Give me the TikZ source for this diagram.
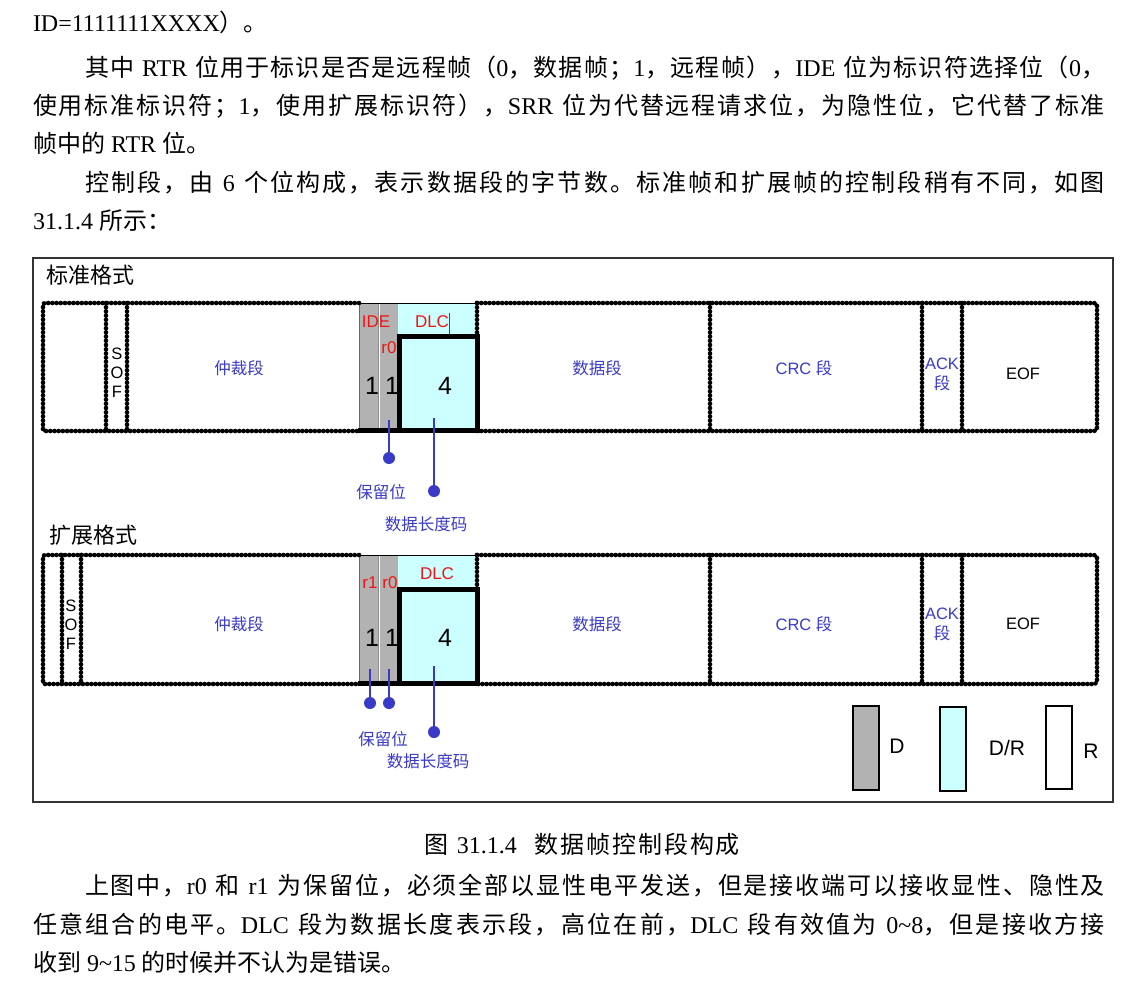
\documentclass[tikz,border=0pt]{standalone}
\usepackage{fontspec}
\setmainfont{Liberation Serif}
\newfontfamily\cjkfont{Noto Sans CJK SC}
\newfontfamily\sansf{Liberation Sans}
\newcommand\cj[1]{{\cjkfont #1}}
\XeTeXinterchartokenstate=1
\newcount\myc
\myc="3000
\loop \XeTeXcharclass\myc=1 \ifnum\myc<"303F \advance\myc by 1 \repeat
\myc="4E00
\loop \XeTeXcharclass\myc=1 \ifnum\myc<"9FFF \advance\myc by 1 \repeat
\myc="FF00
\loop \XeTeXcharclass\myc=1 \ifnum\myc<"FFEF \advance\myc by 1 \repeat
\XeTeXinterchartoks 1 1 = {\hskip 0pt plus 2pt\relax}
\definecolor{greyc}{RGB}{178,178,178}
\definecolor{cyanc}{RGB}{204,255,255}
\definecolor{bluec}{RGB}{58,58,200}
\definecolor{redc}{RGB}{240,20,20}
\begin{document}
\begin{tikzpicture}[x=1pt,y=-1pt,
  every node/.style={inner sep=0pt, outer sep=0pt},
  para/.style={anchor=base west, font=\fontsize{24}{28}\selectfont},
  dotln/.style={line width=2.2pt, line cap=round,
     preaction={draw, line width=4.6pt, dash pattern=on 0pt off 4.2pt, line cap=round}},
  thickln/.style={line width=5pt},
  bluet/.style={text=bluec, font=\sansf\fontsize{16.5}{21}\selectfont, align=center},
  redt/.style={text=redc, font=\sansf\fontsize{17}{20}\selectfont},
  bigt/.style={text=black, font=\sansf\fontsize{25}{28}\selectfont},
  blackt/.style={text=black, font=\sansf\fontsize{16.5}{19}\selectfont, align=center},
  titlet/.style={anchor=west, font=\cjkfont\fontsize{22}{26}\selectfont},
  legt/.style={text=black, font=\sansf\fontsize{21}{24}\selectfont},
  blueln/.style={draw=bluec, line width=2.4pt},
  bdot/.style={circle, fill=bluec, minimum size=12pt},
  legbox/.style={draw=black, line width=1.8pt}
]
\useasboundingbox[fill=white] (0,0) rectangle (1139,985);

% ---------- paragraph text above ----------
\node[para] (l1) at (33,31.5) {ID=1111111XXXX\cj{）。}};
\node[para] (l2) at (85,76.5) {\makebox[1020pt][s]{\cj{其中} RTR \cj{位用于标识是否是远程帧（}0\cj{，数据帧；}1\cj{，远程帧），}IDE \cj{位为标识符选择位（}0\cj{，}}};
\node[para] (l3) at (33,114.5) {\makebox[1072pt][s]{\cj{使用标准标识符；}1\cj{，使用扩展标识符），}SRR \cj{位为代替远程请求位，为隐性位，它代替了标准}}};
\node[para] (l4) at (33,152.5) {\cj{帧中的} RTR \cj{位。}};
\node[para] (l5) at (85,191.5) {\makebox[1020pt][s]{\cj{控制段，由} 6 \cj{个位构成，表示数据段的字节数。标准帧和扩展帧的控制段稍有不同，如图}}};
\node[para] (l6) at (33,229.5) {31.1.4 \cj{所示：}};

% ---------- outer frame ----------
\draw[line width=1.5pt, black!80] (33,258) rectangle (1113,802);
\node[titlet] (t1) at (46,275) {标准格式};
\node[titlet] (t2) at (49,535) {扩展格式};

% ---------- standard format row ----------
\fill[greyc] (359,303) rectangle (398,431);
\fill[cyanc] (398,303) rectangle (477,336);
\draw[black!60, line width=0.6pt] (359,303) -- (359,431);
\draw[black!45, line width=0.5pt] (378,303) -- (378,431);
\draw[white, line width=0.8pt] (379,303) -- (379,431);
\draw[line width=0.9pt] (359,303) -- (477,303);
\draw[dotln, rounded corners=2pt] (359,303) -- (43,303) -- (43,431) -- (359,431);
\draw[dotln] (106,303) -- (106,431);
\draw[dotln] (127,303) -- (127,431);
\draw[dotln, rounded corners=3pt] (477,303) -- (1097,303) -- (1097,431) -- (477,431);
\draw[dotln] (477,303) -- (477,336);
\draw[dotln] (710,303) -- (710,431);
\draw[dotln] (922,303) -- (922,431);
\draw[dotln] (962,303) -- (962,431);
\draw[thickln, fill=cyanc] (399.5,336) rectangle (477,430.5);
\draw[thickln] (358,430.5) -- (479,430.5);
\draw[line width=0.6pt, black!70] (449,313) -- (449,334);

\node[blackt] (sof1) at (117,373) {S\\O\\F};
\node[bluet] (arb1) at (239,368) {\cj{仲裁段}};
\node[bluet] (dat1) at (597,368) {\cj{数据段}};
\node[bluet] (crc1) at (804,368) {CRC \cj{段}};
\node[bluet] (ack1) at (942,374) {ACK\\[-1pt]\cj{段}};
\node[blackt] (eof1) at (1023,374) {EOF};
\node[redt] (ide1) at (376,322) {IDE};
\node[redt] (dlc1) at (432,322) {DLC};
\node[redt] (r01) at (389,348) {r0};
\node[bigt] (n11) at (372,386) {1};
\node[bigt] (n12) at (392,386) {1};
\node[bigt] (n14) at (445,386) {4};

\coordinate (s1a) at (389,420);
\coordinate (s1b) at (434,418);
\node[bdot] (d1a) at (389,458) {};
\node[bdot] (d1b) at (434,491) {};
\draw[blueln] (s1a) -- (d1a.center);
\draw[blueln] (s1b) -- (d1b.center);
\node[bluet] (res1) at (381,492) {\cj{保留位}};
\node[bluet] (len1) at (426,524) {\cj{数据长度码}};

% ---------- extended format row ----------
\fill[greyc] (359,555) rectangle (398,684);
\fill[cyanc] (398,555) rectangle (477,589);
\draw[black!60, line width=0.6pt] (359,555) -- (359,684);
\draw[black!45, line width=0.5pt] (378,555) -- (378,684);
\draw[white, line width=0.8pt] (379,555) -- (379,684);
\draw[line width=0.9pt] (359,555) -- (477,555);
\draw[dotln, rounded corners=2pt] (359,555) -- (43,555) -- (43,684) -- (359,684);
\draw[dotln] (62,555) -- (62,684);
\draw[dotln] (81,555) -- (81,684);
\draw[dotln, rounded corners=3pt] (477,555) -- (1097,555) -- (1097,684) -- (477,684);
\draw[dotln] (477,555) -- (477,589);
\draw[dotln] (710,555) -- (710,684);
\draw[dotln] (922,555) -- (922,684);
\draw[dotln] (962,555) -- (962,684);
\draw[thickln, fill=cyanc] (399.5,589.5) rectangle (477,683.5);
\draw[thickln] (358,683.5) -- (479,683.5);

\node[blackt] (sof2) at (71,625) {S\\O\\F};
\node[bluet] (arb2) at (239,624) {\cj{仲裁段}};
\node[bluet] (dat2) at (597,624) {\cj{数据段}};
\node[bluet] (crc2) at (804,624) {CRC \cj{段}};
\node[bluet] (ack2) at (942,624) {ACK\\[-1pt]\cj{段}};
\node[blackt] (eof2) at (1023,624) {EOF};
\node[redt] (r12) at (370,583) {r1};
\node[redt] (r02) at (390,583) {r0};
\node[redt] (dlc2) at (437,574) {DLC};
\node[bigt] (n21) at (372,638) {1};
\node[bigt] (n22) at (392,638) {1};
\node[bigt] (n24) at (445,638) {4};

\coordinate (s2a) at (370,669);
\coordinate (s2b) at (389,669);
\coordinate (s2c) at (434,666);
\node[bdot] (d2a) at (370,703) {};
\node[bdot] (d2b) at (389,703) {};
\node[bdot] (d2c) at (434,732) {};
\draw[blueln] (s2a) -- (d2a.center);
\draw[blueln] (s2b) -- (d2b.center);
\draw[blueln] (s2c) -- (d2c.center);
\node[bluet] (res2) at (383,739) {\cj{保留位}};
\node[bluet] (len2) at (428,761) {\cj{数据长度码}};

% ---------- legend ----------
\draw[legbox, fill=greyc] (853,706) rectangle (879,790);
\draw[legbox, fill=cyanc] (940,707) rectangle (966,791);
\draw[legbox, fill=white] (1046,706) rectangle (1072,789);
\node[legt] (lgd) at (897,746) {D};
\node[legt] (lgdr) at (1007,748) {D/R};
\node[legt] (lgr) at (1091,751) {R};

% ---------- caption and text below ----------
\node[para, anchor=base] (cap) at (582,853.5) {\makebox[316pt][s]{\cj{图} 31.1.4\hspace{0.6em plus 4pt}\cj{数据帧控制段构成}}};
\node[para] (l7) at (85,894.5) {\makebox[1020pt][s]{\cj{上图中，}r0 \cj{和} r1 \cj{为保留位，必须全部以显性电平发送，但是接收端可以接收显性、隐性及}}};
\node[para] (l8) at (33,933.5) {\makebox[1072pt][s]{\cj{任意组合的电平。}DLC \cj{段为数据长度表示段，高位在前，}DLC \cj{段有效值为} 0\string~8\cj{，但是接收方接}}};
\node[para] (l9) at (33,971.5) {\cj{收到} 9\string~15 \cj{的时候并不认为是错误。}};
\end{tikzpicture}
\end{document}
